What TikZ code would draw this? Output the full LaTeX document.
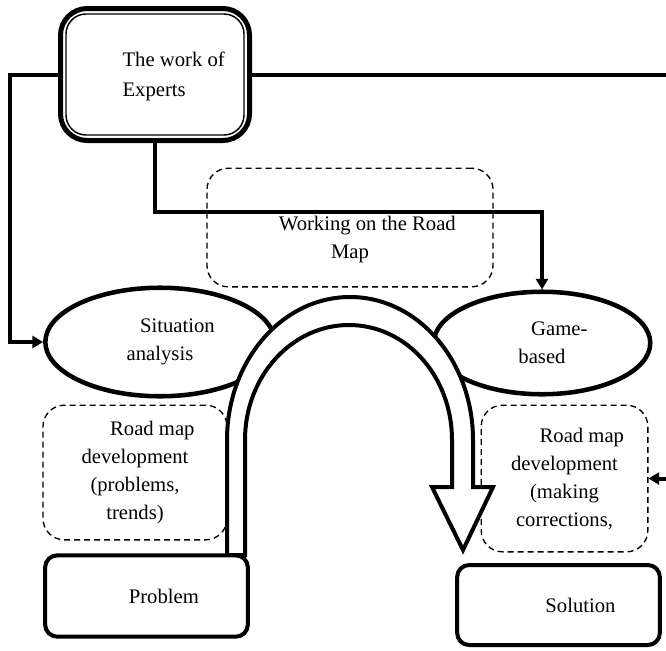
\documentclass[tikz,border=0pt]{standalone}
\usepackage{fontspec}
\setmainfont{Liberation Serif}
\usepackage{tikz}
\usetikzlibrary{arrows.meta, shapes.geometric}
\newcommand{\lead}[1][26pt]{\hspace*{#1}}
\tikzset{
    heavy/.style={line width=3pt},
    link/.style={heavy, -{Triangle[length=8pt, width=9pt]}},
    blob/.style={ellipse, draw, line width=3.4pt, align=center, inner sep=0pt},
    plan/.style={rectangle, draw, line width=1pt, dash pattern=on 4.5pt off 3pt, rounded corners=16pt, align=center},
    endbox/.style={rectangle, draw, line width=3pt, rounded corners=9pt, minimum width=152pt, minimum height=61pt}
}

\begin{document}
\begin{tikzpicture}[x=0.75pt, y=-0.75pt, font=\fontsize{15.5}{21}\selectfont]
    \useasboundingbox (0,0) rectangle (666,650);

    % Road map boxes
    \node[plan, minimum width=214.5pt, minimum height=89pt,
          label={[yshift=-9pt, align=center]center:\lead Working on the Road\\Map}] (work) at (350,227.5) {};
    \node[plan, minimum width=138pt, minimum height=101pt] (lmap) at (135,472.5)
        {\lead Road map\\development\\(problems,\\trends)};
    \node[plan, minimum width=125pt, minimum height=110pt] (rmap) at (564.5,478.5)
        {\lead Road map\\development\\(making\\corrections,};

    % Stages
    \node[blob, minimum width=172pt, minimum height=81.4pt] (sit) at (160,342) {\lead Situation\\analysis};
    \node[blob, minimum width=162.4pt, minimum height=76.9pt] (game) at (542,343) {\lead Game-\\based};

    % Experts box with double border
    \node[draw, line width=3.75pt, rounded corners=20pt, minimum width=141.75pt, minimum height=99pt,
          label={[xshift=14pt, yshift=-1.5pt, align=left, font=\fontsize{15.5}{22.5}\selectfont]center:The work of\\Experts}] (exp) at (155,74.5) {};
    \draw[line width=1.1pt, rounded corners=15pt] ([shift={(8,8)}]exp.north west) rectangle ([shift={(-8,-8)}]exp.south east);

    % Connectors
    \draw[link] (exp.west) -- (10,74.5) |- (sit.west);
    \draw[link] (exp.south) -- ++(0,69) -| (game.north);
    \draw[link] (exp.east) -- (700,74.5) |- (rmap.east);

    % Hollow arrow from problem to solution
    \draw[heavy, fill=white, line join=miter] (227,555) -- (227,440)
        .. controls (227,361) and (282,297) .. (350,297)
        .. controls (418,297) and (473,361) .. (473,440) -- (473,487) -- (493,487) -- (463,550) -- (432,487) -- (452,487) -- (452,440)
        .. controls (452,376) and (406,325) .. (349,325)
        .. controls (292,325) and (245,376) .. (245,440) -- (245,555) -- cycle;

    \node[endbox, fill=white] (prob) at (146.5,596) {\lead Problem};
    \node[endbox, minimum height=60pt] (sol) at (558.5,605) {\lead[33pt]Solution};
\end{tikzpicture}
\end{document}
